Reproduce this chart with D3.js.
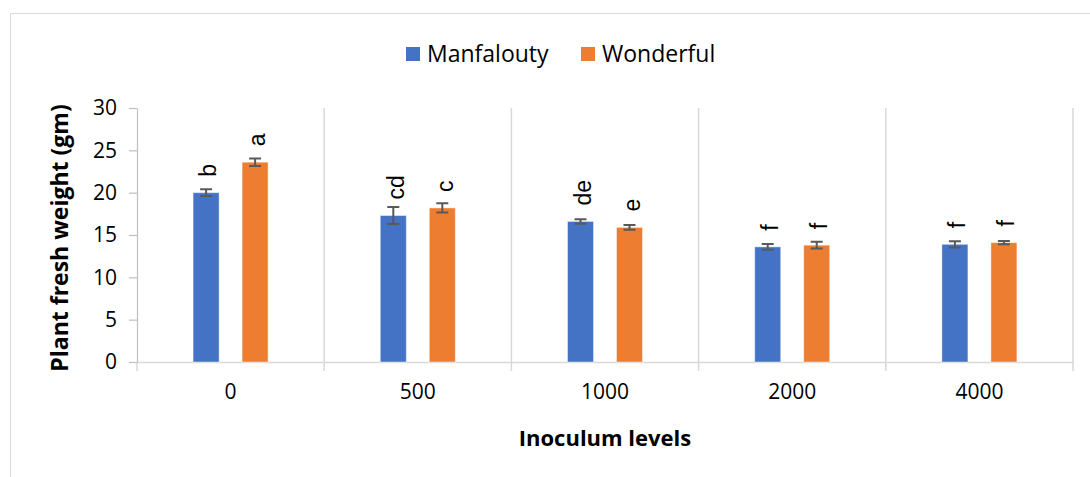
<!DOCTYPE html>
<html lang="en">
<head>
<meta charset="utf-8">
<title>Plant fresh weight</title>
<script src="https://cdn.jsdelivr.net/npm/d3@7"></script>
<style>
    body { margin: 0; background: #fff; }
    svg { display: block; }
    .tick text { fill: #000; }
</style>
</head>
<body>
<script>
    // data
    var levels = ['0', '500', '1000', '2000', '4000'];
    var seriesNames = ['Manfalouty', 'Wonderful'];
    var manfalouty = [20.0, 17.3, 16.6, 13.6, 13.9];
    var wonderful = [23.6, 18.2, 15.9, 13.8, 14.1];
    var manfaloutyErr = [0.4, 1.0, 0.27, 0.35, 0.37];
    var wonderfulErr = [0.45, 0.55, 0.27, 0.4, 0.2];
    var manfaloutyLetters = ['b', 'cd', 'de', 'f', 'f'];
    var wonderfulLetters = ['a', 'c', 'e', 'f', 'f'];
    var yTicks = [0, 5, 10, 15, 20, 25, 30];

    var colors = ['#4472C4', '#ED7D31'];
    var W = 1090, H = 477;
    var pLeft = 137, pRight = 1073, pTop = 108, pBottom = 362;

    var rows = levels.map(function (l, i) {
        return [
            {s: 0, level: l, v: manfalouty[i], e: manfaloutyErr[i], t: manfaloutyLetters[i]},
            {s: 1, level: l, v: wonderful[i], e: wonderfulErr[i], t: wonderfulLetters[i]}
        ];
    });

    var svg = d3.select('body').append('svg')
        .attr('width', W).attr('height', H);

    // chart area border
    svg.append('path')
        .attr('d', 'M10.5,' + H + 'V13.5H' + W)
        .attr('fill', 'none')
        .attr('stroke', '#d9d9d9');

    var x0 = d3.scaleBand().domain(levels).range([pLeft, pRight]).padding(0);
    var half = x0.bandwidth() / 2;
    var x1 = d3.scaleBand().domain([0, 1])
        .range([half - 49, half + 49])
        .paddingInner(0.469).paddingOuter(0.2345);
    var y = d3.scaleLinear().domain([0, 30]).range([pBottom, pTop]);

    // vertical separators between categories
    svg.append('g').selectAll('line')
        .data(levels)
        .enter().append('line')
        .attr('x1', function (d) { return x0(d) + x0.bandwidth(); })
        .attr('x2', function (d) { return x0(d) + x0.bandwidth(); })
        .attr('y1', pTop).attr('y2', pBottom + 9)
        .attr('stroke', '#d9d9d9').attr('stroke-width', 1.5);

    // x axis
    var xAxis = svg.append('g')
        .attr('transform', 'translate(0,' + pBottom + ')')
        .call(d3.axisBottom(x0).tickSize(0).tickPadding(22));
    xAxis.select('.domain').attr('stroke', '#d9d9d9').attr('stroke-width', 1.5);
    xAxis.selectAll('text')
        .attr('font-family', 'Open Sans, sans-serif')
        .attr('font-size', 21);
    xAxis.append('line')
        .attr('x1', pLeft).attr('x2', pLeft).attr('y1', 0).attr('y2', 9)
        .attr('stroke', '#d9d9d9').attr('stroke-width', 1.5);

    // y axis
    var yAxis = svg.append('g')
        .attr('transform', 'translate(' + pLeft + ',0)')
        .call(d3.axisLeft(y).tickValues(yTicks).tickSize(8).tickPadding(12).tickSizeOuter(0));
    yAxis.select('.domain').attr('stroke', '#bfbfbf').attr('stroke-width', 1.2);
    yAxis.selectAll('.tick line').attr('stroke', '#bfbfbf').attr('stroke-width', 1.2);
    yAxis.selectAll('text')
        .attr('font-family', 'Open Sans, sans-serif')
        .attr('font-size', 21);

    // bars
    var groups = svg.append('g').selectAll('g')
        .data(rows)
        .enter().append('g')
        .attr('transform', function (d) { return 'translate(' + x0(d[0].level) + ',0)'; });

    groups.selectAll('rect')
        .data(function (d) { return d; })
        .enter().append('rect')
        .attr('x', function (d) { return x1(d.s); })
        .attr('y', function (d) { return y(d.v); })
        .attr('width', x1.bandwidth())
        .attr('height', function (d) { return y(0) - y(d.v); })
        .attr('fill', function (d) { return colors[d.s]; })
        .attr('stroke', 'rgba(255,255,255,0.45)')
        .attr('stroke-width', 1);

    // error bars
    var cap = 6;
    groups.selectAll('path.err')
        .data(function (d) { return d; })
        .enter().append('path')
        .attr('class', 'err')
        .attr('d', function (d) {
            var cx = x1(d.s) + x1.bandwidth() / 2;
            var a = y(d.v + d.e), b = y(d.v - d.e);
            return 'M' + (cx - cap) + ',' + a + 'H' + (cx + cap) +
                'M' + cx + ',' + a + 'V' + b +
                'M' + (cx - cap) + ',' + b + 'H' + (cx + cap);
        })
        .attr('fill', 'none')
        .attr('stroke', '#595959')
        .attr('stroke-width', 2);

    // significance letters
    groups.selectAll('text.lbl')
        .data(function (d) { return d; })
        .enter().append('text')
        .attr('class', 'lbl')
        .attr('transform', function (d) {
            var cx = x1(d.s) + x1.bandwidth() / 2;
            return 'translate(' + cx + ',' + (y(d.v) - 16) + ') rotate(-90)';
        })
        .attr('dy', '0.45em')
        .attr('font-family', 'Liberation Sans, Arial, sans-serif')
        .attr('font-size', 23)
        .attr('fill', '#000')
        .text(function (d) { return d.t; });

    // legend
    var legendX = [406, 581];
    var legend = svg.append('g').selectAll('g')
        .data(seriesNames)
        .enter().append('g')
        .attr('transform', function (d, i) { return 'translate(' + legendX[i] + ',47)'; });
    legend.append('rect')
        .attr('width', 14).attr('height', 14)
        .attr('fill', function (d, i) { return colors[i]; });
    legend.append('text')
        .attr('x', 21).attr('y', 7).attr('dy', '0.35em')
        .attr('font-family', 'Open Sans, sans-serif')
        .attr('font-size', 23)
        .text(function (d) { return d; });

    // axis titles
    svg.append('text')
        .attr('transform', 'translate(60,' + ((pTop + pBottom) / 2 + 3) + ') rotate(-90)')
        .attr('text-anchor', 'middle')
        .attr('dy', '0.35em')
        .attr('font-family', 'Open Sans, sans-serif')
        .attr('font-weight', 'bold')
        .attr('font-size', 23)
        .text('Plant fresh weight (gm)');

    svg.append('text')
        .attr('x', (pLeft + pRight) / 2)
        .attr('y', 438)
        .attr('text-anchor', 'middle')
        .attr('dy', '0.35em')
        .attr('font-family', 'Open Sans, sans-serif')
        .attr('font-weight', 'bold')
        .attr('font-size', 22)
        .text('Inoculum levels');
</script>
</body>
</html>
